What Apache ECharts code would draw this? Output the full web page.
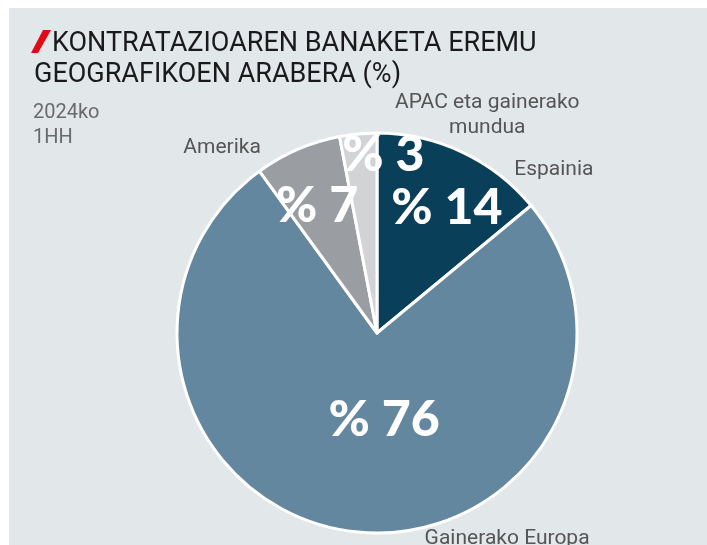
<!DOCTYPE html>
<html>
<head>
<meta charset="utf-8">
<script src="https://cdn.jsdelivr.net/npm/echarts@6/dist/echarts.min.js"></script>
<style>
  html, body { margin: 0; padding: 0; background: #fff; }
  #chart { width: 707px; height: 545px; }
</style>
</head>
<body>
<div id="chart"></div>
<script>
// regions, clockwise from 12 o'clock
const regions = ["Espainia", "Gainerako Europa", "Amerika", "APAC eta gainerako\nmundua"];
const shares = [14, 76, 7, 3];
const colors = ["#0a3f5a", "#6487a0", "#9a9ea2", "#d2d3d5"];
// nudges from the default inside spot (px)
const valueOffsets = [[26, -32], [20, -15], [-19, -33], [16, -76]];
const nameOffsets = [[133, -70], [143, 104], [-114, -91], [120, -115]];

const chart = echarts.init(document.getElementById("chart"));

const valueData = shares.map((v, i) => ({
  name: regions[i],
  value: v,
  itemStyle: { color: colors[i] },
  label: { offset: valueOffsets[i] }
}));
const nameData = shares.map((v, i) => ({
  name: regions[i],
  value: v,
  label: { offset: nameOffsets[i] }
}));

chart.setOption({
  animation: false,
  graphic: [
    { type: "rect", z: -10, shape: { x: 9, y: 8, width: 698, height: 537 }, style: { fill: "#e2e7ea" } },
    { type: "polygon", shape: { points: [[43, 30], [51, 30], [38, 53], [31, 53]] }, style: { fill: "#e30a17" } },
    { type: "text", x: 52, y: 44, style: { text: "KONTRATAZIOAREN BANAKETA EREMU", font: "27px Roboto", fill: "#1a1a1a", verticalAlign: "middle" } },
    { type: "text", x: 34, y: 75, style: { text: "GEOGRAFIKOEN ARABERA (%)", font: "27px Roboto", fill: "#1a1a1a", verticalAlign: "middle" } },
    { type: "text", x: 33, y: 113, style: { text: "2024ko", font: "20px Roboto", fill: "#6a6a6a", verticalAlign: "middle" } },
    { type: "text", x: 33, y: 138, style: { text: "1HH", font: "20px Roboto", fill: "#6a6a6a", verticalAlign: "middle" } }
  ],
  series: [
    {
      type: "pie",
      center: [377, 333],
      radius: [0, 200],
      startAngle: 90,
      clockwise: true,
      silent: true,
      avoidLabelOverlap: false,
      itemStyle: { borderColor: "#fff", borderWidth: 3 },
      label: {
        position: "inside",
        formatter: "% {c}",
        color: "#fff",
        fontFamily: "Lato",
        fontWeight: 900,
        fontSize: 50
      },
      labelLine: { show: false },
      data: valueData
    },
    {
      type: "pie",
      center: [377, 333],
      radius: [0, 200],
      startAngle: 90,
      clockwise: true,
      silent: true,
      avoidLabelOverlap: false,
      itemStyle: { color: "transparent", borderWidth: 0 },
      label: {
        position: "inside",
        formatter: "{b}",
        color: "#555",
        fontFamily: "Roboto",
        fontSize: 21,
        lineHeight: 25,
        align: "center"
      },
      labelLine: { show: false },
      labelLayout: { hideOverlap: false },
      data: nameData
    }
  ]
});
</script>
</body>
</html>
